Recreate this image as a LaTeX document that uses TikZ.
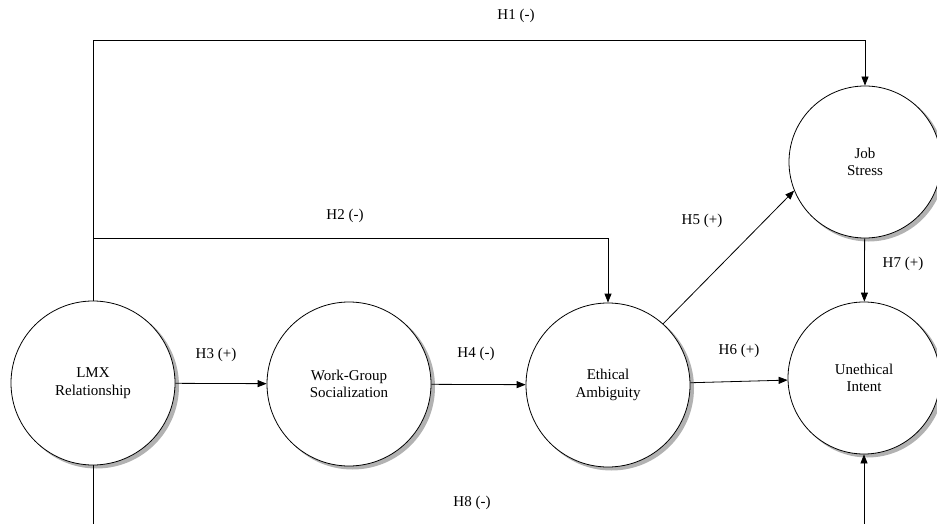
\documentclass[tikz,border=0pt]{standalone}
\usepackage{fontspec}
\setmainfont{Liberation Serif}
\usepackage{tikz}
\usetikzlibrary{arrows.meta,backgrounds}

\begin{document}
\begin{tikzpicture}[
  x=1pt,y=-1pt,
  font=\fontsize{15}{17.5}\selectfont,
  con/.style={draw,circle,fill=white,line width=0.8pt,align=center,inner sep=0pt},
  conbig/.style={con,minimum size=164pt},
  consmall/.style={con,minimum size=152pt},
  shade/.style={fill=gray!60},
  ar/.style={-{Triangle[length=9pt,width=7pt]},line width=0.8pt},
  lbl/.style={inner sep=0pt}
]
\useasboundingbox (0,0) rectangle (937,524);
\clip (0,0) rectangle (937,524);

%%%%%%%%%%%%%%%%%%%%%% constructs %%%%%%%%%%%%%%%%%%%%%%%%%%%%%%%%%%%%%%%%%
\node[conbig]   (lmx)   at (93,383)  {LMX\\Relationship};
\node[conbig]   (wgs)   at (349,384) {Work-Group\\Socialization};
\node[conbig]   (eth)   at (608,385) {Ethical\\Ambiguity};
\node[consmall] (js)    at (865,162) {Job\\Stress};
\node[consmall] (uneth) at (864,378) {Unethical\\Intent};

%%%%%%%%%%%%%%%%%%%%%% shadows %%%%%%%%%%%%%%%%%%%%%%%%%%%%%%%%%%%%%%%%%%%
\begin{scope}[on background layer]
  \foreach \n in {lmx,wgs,eth}
    \fill[shade] ([shift={(3.5,3)}]\n.center) circle (82.5pt);
  \foreach \n in {js,uneth}
    \fill[shade] ([shift={(3.5,3)}]\n.center) circle (76.5pt);
\end{scope}

\coordinate (h1c) at (93,40);
\coordinate (h2c) at (93,238);
\coordinate (h8c) at (93,560);

%%%%%%%%%%%%%%%%%%%%%% paths %%%%%%%%%%%%%%%%%%%%%%%%%%%%%%%%%%%%%%%%%%%%%
\draw[ar] (lmx.north) -- (h1c) -| (js.north);
\draw[ar] (h2c) -| (eth.north);
\draw[ar] (lmx) -- (wgs);
\draw[ar] (wgs) -- (eth);
\draw[ar] (eth.48) -- (js.202);
\draw[ar] (eth) -- (uneth);
\draw[ar] (js) -- (uneth);
\draw[ar] (lmx.south) -- (h8c) -| (uneth.south);

%%%%%%%%%%%%%%%%%%%%%% labels %%%%%%%%%%%%%%%%%%%%%%%%%%%%%%%%%%%%%%%%%%%%
\node[lbl] (l1) at (516,16)  {H1 (-)};
\node[lbl] (l2) at (345,216) {H2 (-)};
\node[lbl] (l3) at (216,355) {H3 (+)};
\node[lbl] (l4) at (476,354) {H4 (-)};
\node[lbl] (l5) at (702,221) {H5 (+)};
\node[lbl] (l6) at (739,351) {H6 (+)};
\node[lbl] (l7) at (903,264) {H7 (+)};
\node[lbl] (l8) at (472,503) {H8 (-)};
\end{tikzpicture}
\end{document}
